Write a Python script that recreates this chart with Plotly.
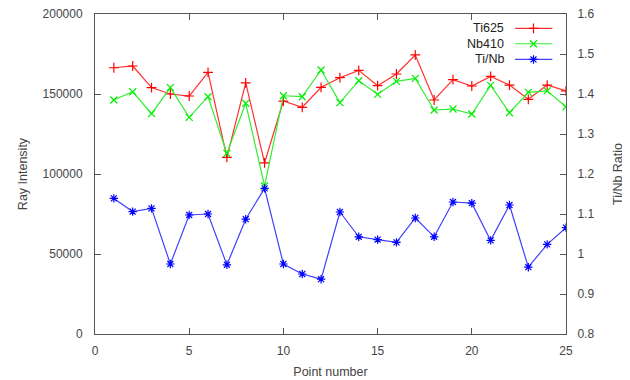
import plotly.graph_objects as go

points = list(range(1, 26))
ti625 = [166400, 167500, 154000, 150000, 148750, 163500, 110400, 157000, 107000, 145600,
         141700, 154200, 160200, 164800, 155200, 162500, 174400, 146250, 159000, 155000,
         161000, 155600, 146700, 155600, 151900]
nb410 = [146250, 151400, 137700, 154000, 135400, 148300, 112900, 144200, 92500, 148900,
         148300, 165000, 144600, 158300, 149800, 157900, 159800, 140000, 140600, 137500,
         155400, 138300, 151000, 152000, 142000]
ratio = [1.139, 1.106, 1.114, 0.975, 1.0975, 1.100, 0.973, 1.087, 1.164, 0.975,
         0.950, 0.937, 1.105, 1.043, 1.036, 1.029, 1.090, 1.043, 1.130, 1.127,
         1.034, 1.1225, 0.967, 1.024, 1.066]
series_names = ["Ti625", "Nb410", "Ti/Nb"]
colors = ["#ff0000", "#00ee00", "#0000ff"]
line_colors = ["#ff3030", "#30ee30", "#4040ff"]
symbols = ["cross-thin-open", "x-thin-open", "asterisk-open"]

FONT = "Liberation Sans, Arial, sans-serif"
AX = "#555555"
TXT = "#444444"

fig = go.Figure()
for vals, i, ya in [(ti625, 0, "y"), (nb410, 1, "y"), (ratio, 2, "y2")]:
    fig.add_trace(go.Scatter(x=points, y=vals, mode="lines+markers", name=series_names[i],
                             line=dict(color=line_colors[i], width=1.2),
                             marker=dict(symbol=symbols[i], size=7, color=colors[i],
                                         line=dict(color=colors[i], width=1.2)),
                             xaxis="x", yaxis=ya, showlegend=False))

# custom legend (text right-aligned, sample to the right) on a hidden overlay axis
leg_y = [0.955, 0.907, 0.858]
for i in range(3):
    fig.add_trace(go.Scatter(x=[0.892, 0.971], y=[leg_y[i], leg_y[i]], mode="lines",
                             line=dict(color=line_colors[i], width=1.2),
                             xaxis="x3", yaxis="y3", showlegend=False, hoverinfo="skip"))
    fig.add_trace(go.Scatter(x=[0.931], y=[leg_y[i]], mode="markers",
                             marker=dict(symbol=symbols[i], size=7, color=colors[i],
                                         line=dict(color=colors[i], width=1.2)),
                             xaxis="x3", yaxis="y3", showlegend=False, hoverinfo="skip"))
    fig.add_annotation(x=0.872, y=leg_y[i], xref="x3", yref="y3", text=series_names[i],
                       showarrow=False, xanchor="right", yanchor="middle",
                       font=dict(family=FONT, size=12.5, color="#222222"))

fig.update_layout(
    width=630, height=380,
    margin=dict(l=87, r=72, t=6, b=54),
    paper_bgcolor="white", plot_bgcolor="white",
    font=dict(family=FONT, size=12, color=TXT),
    xaxis=dict(range=[0, 25], dtick=5, tick0=0, ticks="inside", ticklen=6, tickcolor=AX,
               showline=True, linecolor=AX, linewidth=1, mirror="ticks", showgrid=False,
               zeroline=False, ticklabelstandoff=6, automargin=False,
               ticklabeloverflow="allow",
               title=dict(text="Point number", standoff=9, font=dict(size=12.5, color=TXT))),
    yaxis=dict(range=[0, 200000], dtick=50000, tickformat="d", ticks="inside", ticklen=6,
               tickcolor=AX, showline=True, linecolor=AX, linewidth=1, showgrid=False,
               zeroline=False, ticklabelstandoff=9, automargin=False,
               ticklabeloverflow="allow",
               title=dict(text="Ray Intensity", standoff=12, font=dict(size=12.5, color=TXT))),
    yaxis2=dict(range=[0.8, 1.6], dtick=0.1, tick0=0.8, overlaying="y", side="right",
                ticks="inside", ticklen=6, tickcolor=AX, showline=True, linecolor=AX,
                linewidth=1, showgrid=False, zeroline=False, ticklabelstandoff=8,
                automargin=False, ticklabeloverflow="allow",
                title=dict(text="Ti/Nb Ratio", standoff=19, font=dict(size=12.5, color=TXT))),
    xaxis3=dict(range=[0, 1], overlaying="x", visible=False, fixedrange=True),
    yaxis3=dict(range=[0, 1], overlaying="y", visible=False, fixedrange=True),
)

fig.write_html("out.html")
